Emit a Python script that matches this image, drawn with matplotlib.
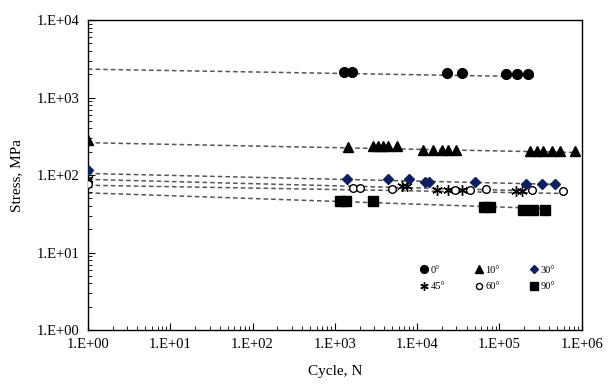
import numpy as np
import matplotlib
matplotlib.use("Agg")
from matplotlib import pyplot as plt
from matplotlib.ticker import FuncFormatter, LogLocator, NullFormatter

plt.rcParams['font.family'] = ['Liberation Serif', 'DejaVu Serif']

# 0 deg
n_0 = [1300, 1600, 23000, 35000, 120000, 165000, 220000]
s_0 = [2130, 2130, 2090, 2090, 1990, 1990, 1990]
# 10 deg
n_10 = [1, 1450, 2900, 3330, 3830, 4440, 5660, 11800, 15500, 20000, 23700, 29600,
        234000, 285000, 338000, 436000, 540000, 825000]
s_10 = [282, 232, 236, 236, 236, 236, 236, 212, 212, 212, 212, 212,
        203, 203, 203, 203, 203, 203]
# 30 deg
n_30 = [1, 1400, 4450, 7950, 12300, 13900, 50000, 210000, 330000, 470000]
s_30 = [116, 89, 89, 89, 82, 82, 81, 76, 76, 76]
# 45 deg
n_45 = [1, 6600, 7500, 17500, 23600, 35000, 160000, 190000]
s_45 = [90, 72, 72, 64, 64, 64, 62, 62]
# 60 deg
n_60 = [1, 1650, 2000, 4950, 29000, 44000, 69000, 245000, 590000]
s_60 = [76, 68, 68, 67, 64, 64, 66, 64, 63]
# 90 deg
n_90 = [1150, 1350, 2900, 65000, 77000, 195000, 255000, 355000]
s_90 = [46, 46, 46, 39, 39, 35, 35, 35]

# power trendlines: stress at N=1, last cycle, stress there
trend_s_start = [2330, 88, 262, 74, 105, 59]
trend_n_end = [260000, 200000, 830000, 600000, 480000, 360000]
trend_s_end = [1860, 63, 196, 58, 76, 37]

series = [
    ("0°", n_0, s_0, dict(marker='o', color='black', markersize=7)),
    ("45°", n_45, s_45, dict(marker=(6, 2, 0), color='black', markersize=7.5, markeredgewidth=1)),
    ("10°", n_10, s_10, dict(marker='^', color='black', markersize=7)),
    ("60°", n_60, s_60, dict(marker='o', markerfacecolor='white', markeredgecolor='black', markersize=5.5)),
    ("30°", n_30, s_30, dict(marker='D', color='#0d1f5c', markersize=5)),
    ("90°", n_90, s_90, dict(marker='s', color='black', markersize=6.5)),
]

fig = plt.figure(figsize=(6.15, 3.87), dpi=100)
ax = fig.add_axes([0.143, 0.147, 0.803, 0.801])

for i, (name, n, s, style) in enumerate(series):
    ax.plot([1, trend_n_end[i]], [trend_s_start[i], trend_s_end[i]], color='#555555',
            linestyle=(0, (3, 2)), linewidth=1.1, zorder=1)
    ax.plot(n, s, linestyle='none', label=name, zorder=3, **style)

ax.set_xscale('log')
ax.set_yscale('log')
ax.set_xlim(1, 1e6)
ax.set_ylim(1, 1e4)

fmt = FuncFormatter(lambda v, p: "1.E+%02d" % int(round(np.log10(v))))
ax.xaxis.set_major_formatter(fmt)
ax.yaxis.set_major_formatter(fmt)
ax.xaxis.set_minor_formatter(NullFormatter())
ax.yaxis.set_minor_formatter(NullFormatter())
ax.xaxis.set_major_locator(LogLocator(base=10, numticks=10))
ax.yaxis.set_major_locator(LogLocator(base=10, numticks=10))
ax.xaxis.set_minor_locator(LogLocator(base=10, subs=np.arange(2, 10), numticks=20))
ax.yaxis.set_minor_locator(LogLocator(base=10, subs=np.arange(2, 10), numticks=20))
ax.tick_params(which='both', direction='in', top=False, right=False, labelsize=10.5, pad=6)
ax.tick_params(which='major', length=5)
ax.tick_params(which='minor', length=3)

for sp in ax.spines.values():
    sp.set_color('black')
    sp.set_linewidth(1)

ax.set_xlabel("Cycle, N", fontsize=11, labelpad=10)
ax.set_ylabel("Stress, MPa", fontsize=11, labelpad=10)

ax.legend(ncol=3, frameon=False, fontsize=7.5, loc='lower right',
          bbox_to_anchor=(0.965, 0.095), handletextpad=0.1, columnspacing=2.8,
          labelspacing=0.7, handlelength=1.0, markerscale=0.8)

fig.savefig("out.png", dpi=100)
